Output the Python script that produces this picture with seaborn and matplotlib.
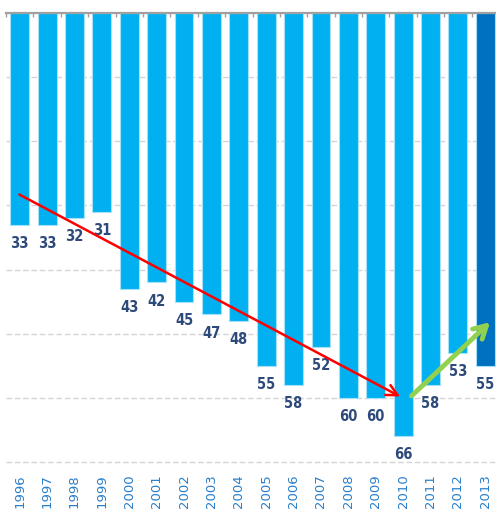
import matplotlib
matplotlib.use("Agg")
import matplotlib.pyplot as plt
from matplotlib import font_manager
import seaborn as sns
import pandas as pd

# data
years = [str(y) for y in range(1996, 2014)]
values = [33, 33, 32, 31, 43, 42, 45, 47, 48, 55, 58, 52, 60, 60, 66, 58, 53, 55]
bar_colors = ["#00B0F0"] * 17 + ["#0070C0"]

df = pd.DataFrame({"year": years, "value": values})

sns.set_style("white")
fig = plt.figure(figsize=(4.96, 5.17), dpi=100)
ax = fig.add_axes([6 / 496, 1 - 462 / 517, 493 / 496, 449 / 517])

sns.barplot(data=df, x="year", y="value", hue="year", palette=bar_colors,
            legend=False, width=0.69, edgecolor="#A6E1F8", linewidth=0.8,
            saturation=1, ax=ax, zorder=2)

ax.set_ylim(70, 0)
ax.set_xlim(-0.5, len(years) - 0.5)
ax.set_yticks(range(10, 80, 10))
ax.yaxis.grid(True, linestyle=(0, (4, 2)), color="#D4D4D4", linewidth=1, zorder=0)
for gl in ax.get_ygridlines():
    gl.set_clip_on(False)
ax.set_axisbelow(True)
ax.set_xlabel("")
ax.set_ylabel("")
ax.tick_params(axis="y", left=False, labelleft=False)

for s in ["left", "right", "bottom"]:
    ax.spines[s].set_visible(False)
ax.spines["top"].set_color("#A0A0A0")
ax.spines["top"].set_linewidth(1.6)

# year labels at the bottom
ax.set_xticks(range(len(years)))
ax.set_xticklabels(years, rotation=90, color="#2A7FC9", fontsize=9.5)
ax.tick_params(axis="x", which="major", length=0, pad=9)

# small tick marks along the top line
ax.set_xticks([i + 0.5 for i in range(-1, len(years))], minor=True)
ax.tick_params(axis="x", which="minor", top=True, bottom=False, direction="in",
               length=3, width=1, color="#A0A0A0")

# value labels below the bars (narrow bold face if available)
names = {f.name for f in font_manager.fontManager.ttflist}
if "Liberation Sans Narrow" in names:
    lab_font = dict(family="Liberation Sans Narrow", fontsize=11.5)
else:
    lab_font = dict(family="DejaVu Sans", stretch="condensed", fontsize=10.5)

for i, v in enumerate(values):
    ax.text(i, v + 2.9, str(v), ha="center", va="center",
            fontweight="bold", color="#2E4A7B", zorder=4, **lab_font)

# trend arrows
ax.annotate("", xy=(13.98, 60), xytext=(-0.1, 28.1),
            arrowprops=dict(arrowstyle="->,head_length=0.8,head_width=0.4",
                            color="#FF0000", lw=1.8), zorder=5)
ax.annotate("", xy=(17.25, 47.9), xytext=(14.23, 60),
            arrowprops=dict(arrowstyle="->,head_length=0.9,head_width=0.5",
                            color="#92D050", lw=3.5), zorder=5)

fig.savefig("out.png", dpi=100)
